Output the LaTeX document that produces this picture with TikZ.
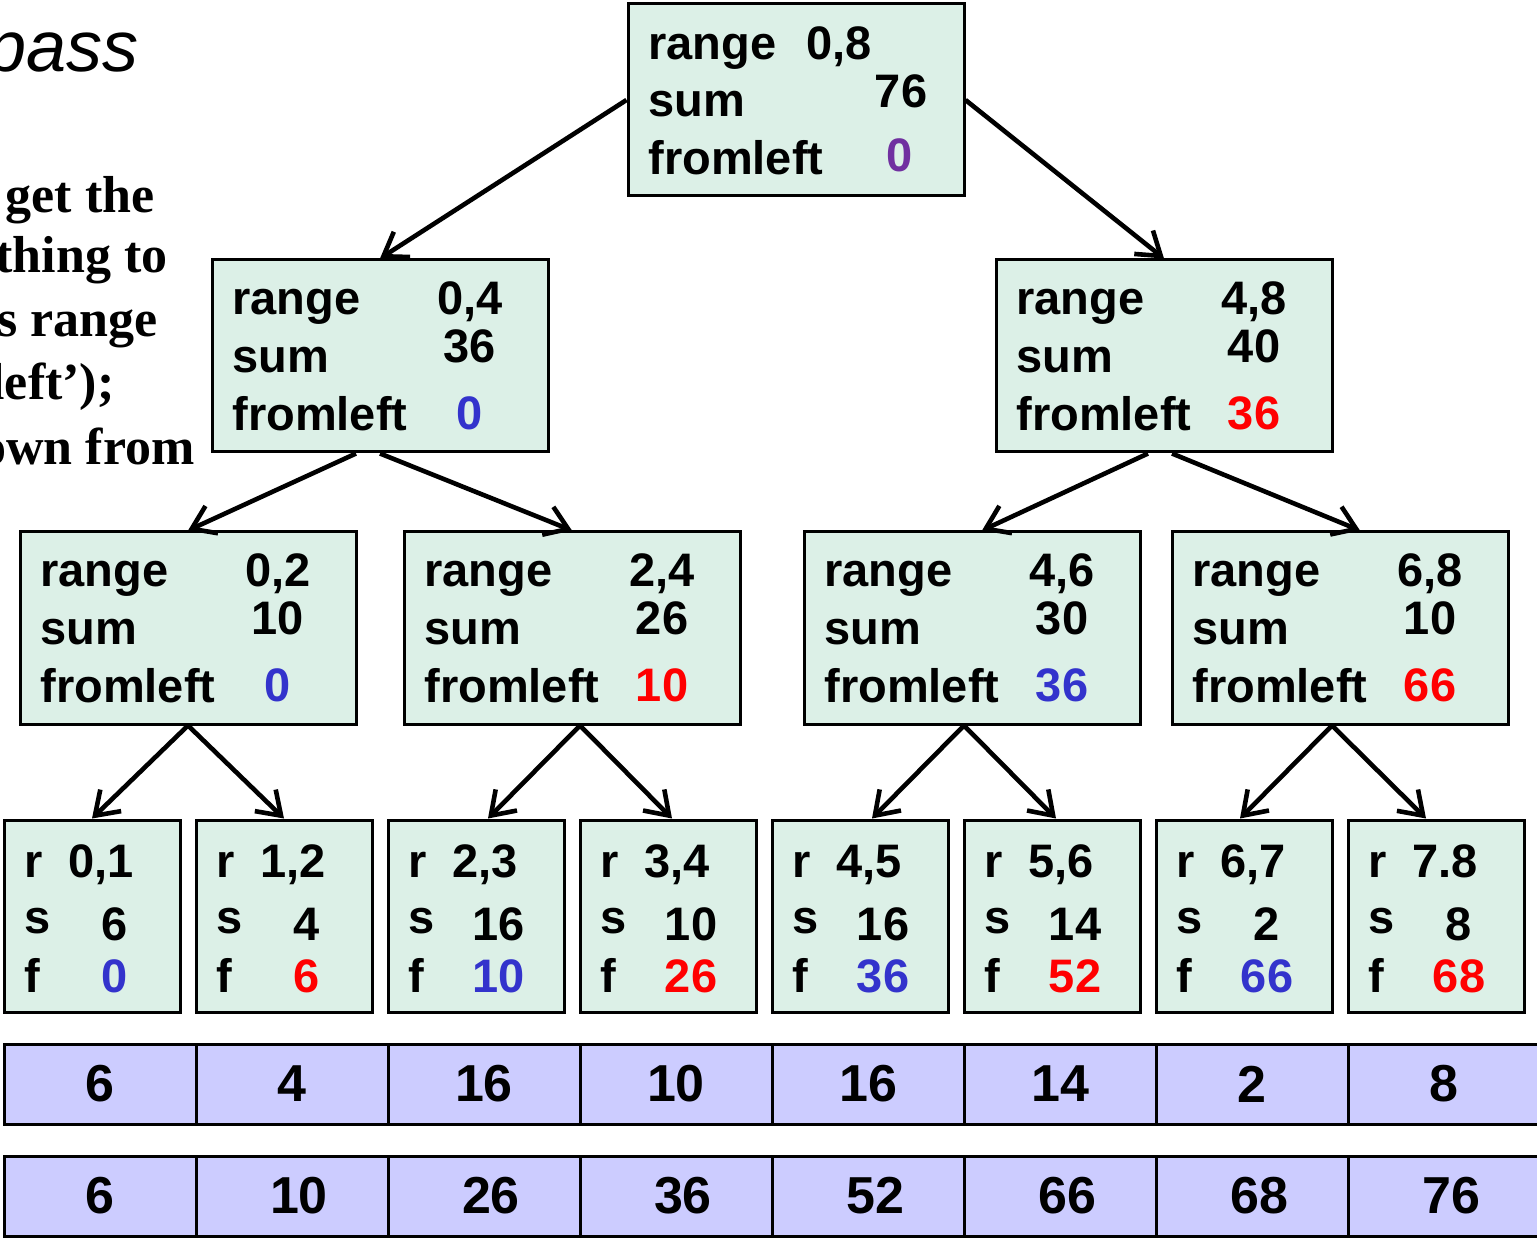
\documentclass[tikz,border=0pt]{standalone}
\usepackage{fontspec}
\setmainfont{Liberation Serif}
\setsansfont{Liberation Sans}
\usetikzlibrary{arrows.meta}
\definecolor{boxgreen}{RGB}{220,240,231}
\definecolor{cellblue}{RGB}{204,204,255}
\definecolor{fblue}{RGB}{51,51,204}
\definecolor{fred}{RGB}{255,0,0}
\definecolor{fpurple}{RGB}{112,48,160}
\tikzset{
  tbox/.style={draw, line width=1.5pt, fill=boxgreen, minimum height=96pt, inner sep=0pt},
  wide/.style={tbox, minimum width=168pt},
  narrow/.style={tbox, minimum width=88pt},
  txt/.style={font=\sffamily\bfseries\fontsize{23.5}{28}\selectfont, inner sep=0pt},
  lbl/.style={txt, anchor=base west},
  val/.style={txt, anchor=base},
  cell/.style={draw, line width=1.5pt, fill=cellblue, minimum width=96pt, minimum height=40pt,
    inner sep=0pt, font=\sffamily\bfseries\fontsize{26}{30}\selectfont},
  note/.style={font=\rmfamily\bfseries\fontsize{26}{31}\selectfont, inner sep=0pt, anchor=base east},
  link/.style={-{Straight Barb[length=11pt,width=15pt]}, line width=2.3pt},
}

\begin{document}
\begin{tikzpicture}[x=0.5pt,y=-0.5pt]
\newcommand{\rowA}{1084}
\newcommand{\rowB}{1196}

\newcommand{\treebox}[7]{%
  \node [wide] (#1) at ({#2+168},{#3+96}) {};
  \node [lbl] (#1-r) at ({#2+20},{#3+55}) {range};
  \node [lbl] (#1-s) at ({#2+20},{#3+113}) {sum};
  \node [lbl] (#1-f) at ({#2+20},{#3+171}) {fromleft};
  \node [val] (#1-rv) at ({#2+258},{#3+55}) {#4};
  \node [val] (#1-sv) at ({#2+258},{#3+103}) {#5};
  \node [val,text=#7] (#1-fv) at ({#2+258},{#3+170}) {#6};
}
\newcommand{\leafbox}[6]{%
  \node [narrow] (#1) at ({#2+88},916) {};
  \node [lbl] (#1-r) at ({#2+20},877) {r};
  \node [lbl] (#1-s) at ({#2+20},933) {s};
  \node [lbl] (#1-f) at ({#2+20},992) {f};
  \node [lbl] (#1-rv) at ({#2+64},877) {#3};
  \node [val] (#1-sv) at ({#2+111},940) {#4};
  \node [val,text=#6] (#1-fv) at ({#2+111},992) {#5};
}

\useasboundingbox (0,0) rectangle (1537,1240);
\clip (0,0) rectangle (1537,1240);

\node [font=\sffamily\itshape\fontsize{36}{40}\selectfont, inner sep=0pt, anchor=base east] (title) at (139,72) {pass};
\node [note] (n1) at (155,213) {get the};
\node [note] (n2) at (168,273) {thing to};
\node [note] (n3) at (158,337) {s range};
\node [note] (n4) at (115,400) {left’);};
\node [note] (n5) at (195,465) {own from};

\node [wide] (top) at (796,100) {};
\node [lbl] (top-r) at (648,60) {range};
\node [lbl] (top-rv) at (806,60) {0,8};
\node [lbl] (top-s) at (648,117) {sum};
\node [val] (top-sv) at (901,108) {76};
\node [lbl] (top-f) at (648,175) {fromleft};
\node [val,text=fpurple] (top-fv) at (900,172) {0};

\treebox{l}{212}{260}{0,4}{36}{0}{fblue}
\treebox{r}{996}{260}{4,8}{40}{36}{fred}
\treebox{ll}{20}{532}{0,2}{10}{0}{fblue}
\treebox{lr}{404}{532}{2,4}{26}{10}{fred}
\treebox{rl}{804}{532}{4,6}{30}{36}{fblue}
\treebox{rr}{1172}{532}{6,8}{10}{66}{fred}

\leafbox{la}{4}{0,1}{6}{0}{fblue}
\leafbox{lb}{196}{1,2}{4}{6}{fred}
\leafbox{lc}{388}{2,3}{16}{10}{fblue}
\leafbox{ld}{580}{3,4}{10}{26}{fred}
\leafbox{le}{772}{4,5}{16}{36}{fblue}
\leafbox{lf}{964}{5,6}{14}{52}{fred}
\leafbox{lg}{1156}{6,7}{2}{66}{fblue}
\leafbox{lh}{1348}{7.8}{8}{68}{fred}

\draw [link] (top.west) -- (l.north);
\draw [link] (top.east) -- (r.north);
\draw [link] ([xshift=-12pt]l.south) -- (ll.north);
\draw [link] (l.south) -- (lr.north);
\draw [link] ([xshift=-8pt]r.south) -- ([xshift=5pt]rl.north);
\draw [link] ([xshift=4pt]r.south) -- ([xshift=10pt]rr.north);
\draw [link] (ll.south) -- (la.north);
\draw [link] (ll.south) -- (lb.north);
\draw [link] ([xshift=4pt]lr.south) -- ([xshift=6pt]lc.north);
\draw [link] ([xshift=4pt]lr.south) -- ([xshift=2pt]ld.north);
\draw [link] ([xshift=-4pt]rl.south) -- ([xshift=6pt]le.north);
\draw [link] ([xshift=-4pt]rl.south) -- ([xshift=2pt]lf.north);
\draw [link] ([xshift=-4pt]rr.south) -- ([xshift=-2pt]lg.north);
\draw [link] ([xshift=-4pt]rr.south) -- ([xshift=-5pt]lh.north);

\node [cell] (a1) at (100,\rowA) {6};
\node [cell] (a2) at (292,\rowA) {4};
\node [cell] (a3) at (484,\rowA) {16};
\node [cell] (a4) at (676,\rowA) {10};
\node [cell] (a5) at (868,\rowA) {16};
\node [cell] (a6) at (1060,\rowA) {14};
\node [cell] (a7) at (1252,\rowA) {2};
\node [cell] (a8) at (1444,\rowA) {8};

\node [cell] (b1) at (100,\rowB) {6};
\node [cell] (b2) at (292,\rowB) {\hspace{7pt}10};
\node [cell] (b3) at (484,\rowB) {\hspace{7pt}26};
\node [cell] (b4) at (676,\rowB) {\hspace{7pt}36};
\node [cell] (b5) at (868,\rowB) {\hspace{7pt}52};
\node [cell] (b6) at (1060,\rowB) {\hspace{7pt}66};
\node [cell] (b7) at (1252,\rowB) {\hspace{7pt}68};
\node [cell] (b8) at (1444,\rowB) {\hspace{7pt}76};
\end{tikzpicture}
\end{document}
